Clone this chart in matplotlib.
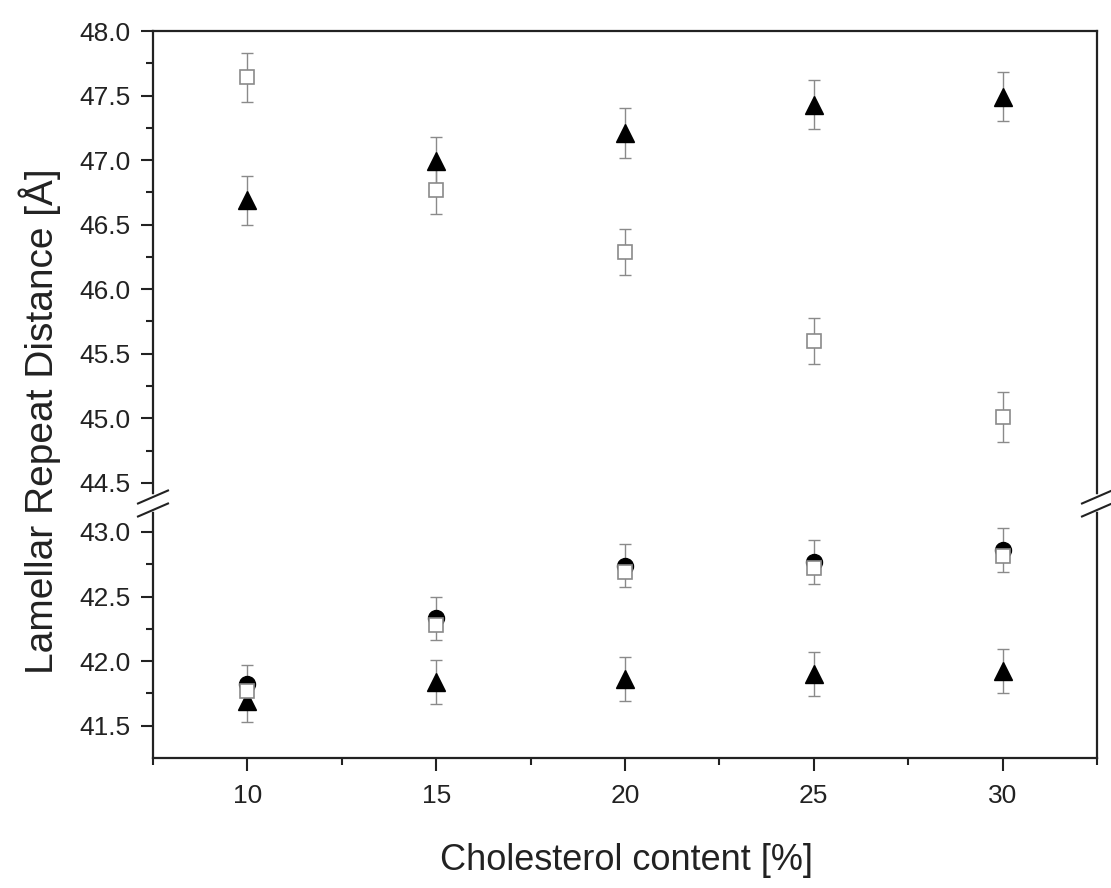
import numpy as np
import matplotlib
matplotlib.use("Agg")
import matplotlib.pyplot as plt
from matplotlib.lines import Line2D
from matplotlib.ticker import MultipleLocator, FixedLocator, FormatStrFormatter

plt.rcParams['font.family'] = ['Liberation Sans', 'DejaVu Sans']

# cholesterol content [%]
chol = [10, 15, 20, 25, 30]

# upper branch
tri_hi = [46.69, 46.99, 47.21, 47.43, 47.49]
tri_hi_err = [0.19, 0.19, 0.19, 0.19, 0.19]
sq_hi = [47.64, 46.77, 46.29, 45.60, 45.01]
sq_hi_err = [0.19, 0.19, 0.18, 0.18, 0.19]

# lower branch
tri_lo = [41.69, 41.84, 41.86, 41.90, 41.92]
tri_lo_err = [0.16, 0.17, 0.17, 0.17, 0.17]
dot_mid = [41.82, 42.33, 42.74, 42.77, 42.86]
sq_mid = [41.77, 42.28, 42.69, 42.72, 42.81]
mid_err = [0.15, 0.17, 0.17, 0.17, 0.17]

W, H = 1111, 888
fig = plt.figure(figsize=(W / 100, H / 100), dpi=100)

left, right = 153 / W, 1097 / W
top, bot, brk = 1 - 31 / H, 1 - 758 / H, 1 - 503.5 / H
ax_hi = fig.add_axes([left, brk, right - left, top - brk])
ax_lo = fig.add_axes([left, bot, right - left, brk - bot])

ink = '#222222'
err_kw = dict(fmt='none', ecolor='#8a8a8a', elinewidth=1.0, capsize=4, capthick=1.0, zorder=2)
tri_kw = dict(marker='^', ls='none', ms=13, mfc='black', mec='black', zorder=3)
dot_kw = dict(marker='o', ls='none', ms=11.5, mfc='black', mec='black', zorder=3)
sq_kw = dict(marker='s', ls='none', ms=9.5, mfc='white', mec='#8a8a8a', mew=1.2, zorder=4)

ax_hi.errorbar(chol, tri_hi, yerr=tri_hi_err, **err_kw)
ax_hi.plot(chol, tri_hi, **tri_kw)
ax_hi.errorbar(chol, sq_hi, yerr=sq_hi_err, **err_kw)
ax_hi.plot(chol, sq_hi, **sq_kw)

ax_lo.errorbar(chol, tri_lo, yerr=tri_lo_err, **err_kw)
ax_lo.plot(chol, tri_lo, **tri_kw)
ax_lo.errorbar(chol, dot_mid, yerr=mid_err, **err_kw)
ax_lo.plot(chol, dot_mid, **dot_kw)
ax_lo.plot(chol, sq_mid, **sq_kw)

ax_hi.set_ylim(44.34, 48.0)
ax_lo.set_ylim(41.25, 43.22)

for ax in (ax_hi, ax_lo):
    ax.set_xlim(7.5, 32.5)
    for s in ax.spines.values():
        s.set_linewidth(1.6)
        s.set_color(ink)
    ax.yaxis.set_major_formatter(FormatStrFormatter('%.1f'))
    ax.tick_params(axis='y', which='major', direction='out', length=9, width=1.5,
                   labelsize=19, colors=ink, pad=7, right=False)
    ax.tick_params(axis='y', which='minor', direction='out', length=5, width=1.5,
                   colors=ink, right=False)

ax_hi.spines['bottom'].set_visible(False)
ax_lo.spines['top'].set_visible(False)
ax_hi.tick_params(axis='x', which='both', bottom=False, top=False, labelbottom=False)
ax_hi.yaxis.set_major_locator(FixedLocator([44.5, 45.0, 45.5, 46.0, 46.5, 47.0, 47.5, 48.0]))
ax_hi.yaxis.set_minor_locator(FixedLocator([44.75, 45.25, 45.75, 46.25, 46.75, 47.25, 47.75]))
ax_lo.yaxis.set_major_locator(FixedLocator([41.5, 42.0, 42.5, 43.0]))
ax_lo.yaxis.set_minor_locator(FixedLocator([41.75, 42.25, 42.75]))

ax_lo.xaxis.set_major_locator(MultipleLocator(5))
ax_lo.xaxis.set_minor_locator(MultipleLocator(2.5))
ax_lo.tick_params(axis='x', which='major', direction='out', length=9, width=1.5,
                  labelsize=19, colors=ink, pad=10, top=False)
ax_lo.tick_params(axis='x', which='minor', direction='out', length=5, width=1.5,
                  colors=ink, top=False)

fig.text(626 / W, 1 - 860 / H, 'Cholesterol content [%]', fontsize=26, color=ink,
         ha='center', va='center')
fig.text(40 / W, 1 - 421 / H, 'Lamellar Repeat Distance [Å]', rotation=90,
         fontsize=28, color=ink, ha='center', va='center')

# axis break marks on both vertical spines
yb = 503.5
for xs in (153, 1097):
    fig.add_artist(Line2D([xs / W, xs / W], [1 - (yb - 6) / H, 1 - (yb + 6) / H],
                          transform=fig.transFigure, color='white', lw=4, zorder=10))
    for off in (-6.5, 6.5):
        fig.add_artist(Line2D([(xs - 15) / W, (xs + 15) / W],
                              [1 - (yb + off + 6.5) / H, 1 - (yb + off - 6.5) / H],
                              transform=fig.transFigure, color=ink, lw=1.5, zorder=11))

fig.savefig('out.png', dpi=100)
